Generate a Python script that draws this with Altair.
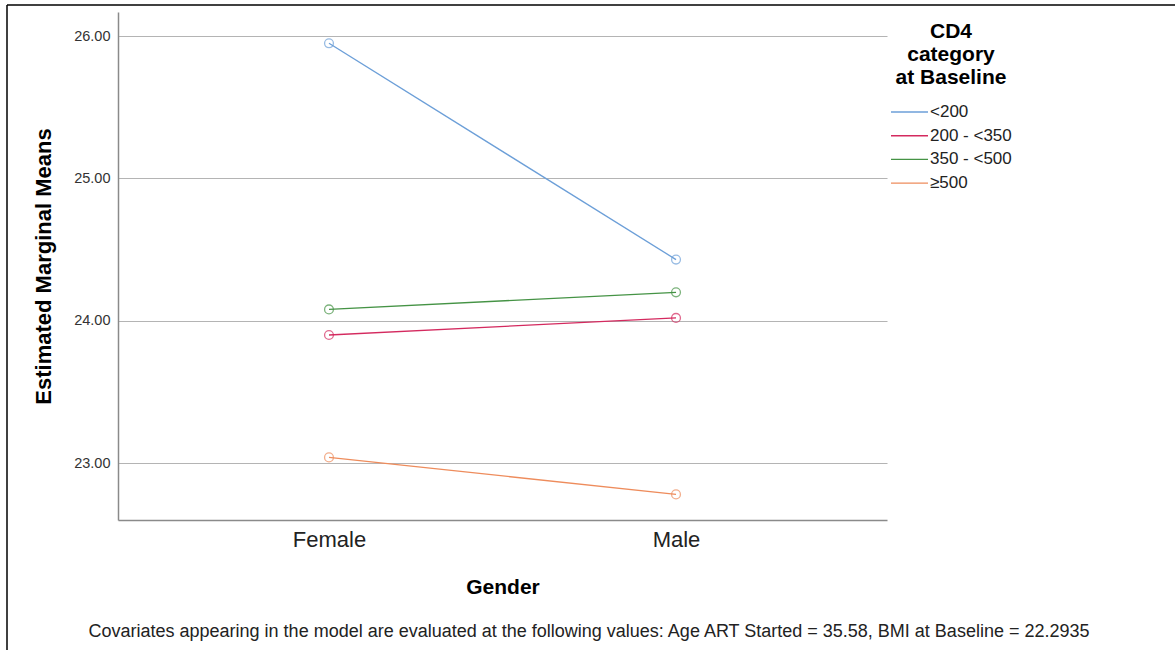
import altair as alt
import pandas as pd

# Estimated marginal means of BMI by gender and baseline CD4 category
genders = ["Female", "Male"]
cd4_groups = ["<200", "200 - <350", "350 - <500", "≥500"]
means_female = [25.95, 23.90, 24.08, 23.04]
means_male = [24.43, 24.02, 24.20, 22.78]
group_colors = ["#6c9fd8", "#d42a5f", "#459345", "#ee8c5c"]

footnote = ("Covariates appearing in the model are evaluated at the following values: "
            "Age ART Started = 35.58, BMI at Baseline = 22.2935")

rows = []
for g, f, m in zip(cd4_groups, means_female, means_male):
    rows.append({"gender": genders[0], "cd4": g, "mean": f})
    rows.append({"gender": genders[1], "cd4": g, "mean": m})
df = pd.DataFrame(rows)

FONT = "Liberation Sans"
W, H = 769, 508

x_enc = alt.X(
    "gender:N",
    sort=genders,
    scale=alt.Scale(type="point", padding=0.608),
    axis=alt.Axis(
        title="Gender", labelAngle=0, ticks=False, grid=False,
        labelFontSize=22, labelColor="#222", labelPadding=9,
        titleFontSize=21, titleFontWeight="bold", titleColor="#000",
        titlePadding=26, domainColor="#8a8a8a", domainWidth=1.5,
    ),
)
y_enc = alt.Y(
    "mean:Q",
    scale=alt.Scale(domain=[22.6, 26.17], nice=False, zero=False),
    axis=alt.Axis(
        title="Estimated Marginal Means", values=[23, 24, 25, 26], format=".2f",
        ticks=False, grid=True, gridColor="#b4b4b4", gridWidth=1.2,
        labelFontSize=14.5, labelColor="#333", labelPadding=8,
        titleFontSize=22, titleFontWeight="bold", titleColor="#000",
        titlePadding=18, domainColor="#8a8a8a", domainWidth=1.5,
    ),
)
color_enc = alt.Color(
    "cd4:N",
    sort=cd4_groups,
    scale=alt.Scale(domain=cd4_groups, range=group_colors),
    legend=alt.Legend(
        title=["CD4", "category", "at Baseline"],
        orient="none", legendX=772, legendY=9,
        titleFontSize=21, titleFontWeight="bold", titleColor="#000",
        titleAlign="center", titleAnchor="middle", titleLineHeight=23,
        titlePadding=15,
        labelFontSize=17, labelColor="#222", labelOffset=1,
        symbolType="stroke", symbolSize=1369, symbolStrokeWidth=1.4,
        clipHeight=18, rowPadding=5.7,
    ),
)

base = alt.Chart(df)
lines = base.mark_line(strokeWidth=1.3).encode(x=x_enc, y=y_enc, color=color_enc)
points = base.mark_point(shape="circle", size=78, filled=False, strokeWidth=1.3).encode(
    x=x_enc, y=y_enc,
    color=alt.Color("cd4:N", scale=alt.Scale(domain=cd4_groups, range=group_colors), legend=None),
)

note = alt.Chart(pd.DataFrame({"note": [footnote]})).mark_text(
    font=FONT, fontSize=18, color="#222", align="center", baseline="middle"
).encode(text="note:N", x=alt.value(471), y=alt.value(620))

frame_df = pd.DataFrame({"k": [0]})
frame_left = alt.Chart(frame_df).mark_rule(color="#000", strokeWidth=1.5).encode(
    x=alt.value(-111), y=alt.value(-7), y2=alt.value(640)
)
frame_top = alt.Chart(frame_df).mark_rule(color="#000", strokeWidth=1.5).encode(
    x=alt.value(-111), x2=alt.value(1060), y=alt.value(-7)
)

chart = (
    alt.layer(lines, points, note, frame_left, frame_top)
    .properties(
        width=W, height=H,
        autosize=alt.AutoSizeParams(type="none"),
        padding={"left": 118, "top": 12, "right": 288, "bottom": 130},
        background="white",
    )
    .configure(font=FONT)
    .configure_view(strokeWidth=0, stroke="transparent")
)

chart.save("out.html", embed_options={"renderer": "svg", "actions": False})
